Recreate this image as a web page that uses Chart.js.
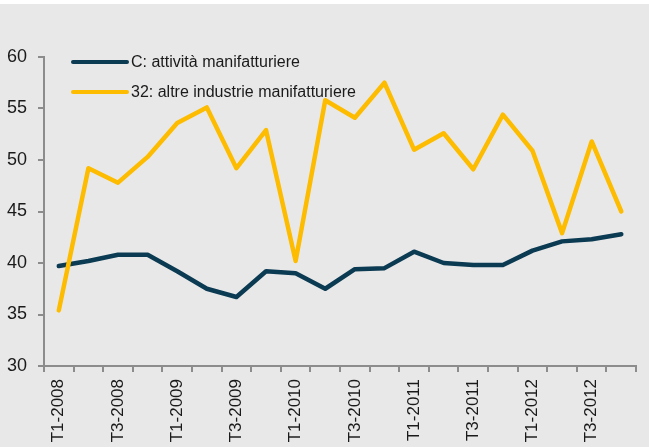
<!DOCTYPE html>
<html>
<head>
<meta charset="utf-8">
<script src="https://cdn.jsdelivr.net/npm/chart.js@4/dist/chart.umd.min.js"></script>
<style>
  html, body { margin: 0; padding: 0; background: #ffffff; width: 649px; height: 447px; overflow: hidden; }
  #c { display: block; margin-top: 4px; background: #e8e8e8; }
</style>
</head>
<body>
<canvas id="c" width="649" height="443"></canvas>
<script>
const categories = [
  "T1-2008","T2-2008","T3-2008","T4-2008",
  "T1-2009","T2-2009","T3-2009","T4-2009",
  "T1-2010","T2-2010","T3-2010","T4-2010",
  "T1-2011","T2-2011","T3-2011","T4-2011",
  "T1-2012","T2-2012","T3-2012","T4-2012"
];
const seriesNames = ["C: attività manifatturiere", "32: altre industrie manifatturiere"];
const manifatturiere = [39.7, 40.2, 40.8, 40.8, 39.2, 37.5, 36.7, 39.2, 39.0, 37.5,
                        39.4, 39.5, 41.1, 40.0, 39.8, 39.8, 41.2, 42.1, 42.3, 42.8];
const altreIndustrie = [35.4, 49.2, 47.8, 50.3, 53.6, 55.1, 49.2, 52.9, 40.2, 55.8,
                        54.1, 57.5, 51.0, 52.6, 49.1, 54.4, 50.9, 42.9, 51.8, 45.0];
const yTicks = { min: 30, max: 60, step: 5 };

const colDark = "#0b3a53";
const colYellow = "#fdbc00";
const axisCol = "#8c8c8c";
const font = "'Liberation Sans', Arial, sans-serif";

const legendPlugin = {
  id: "inlineLegend",
  afterDraw(chart) {
    const ctx = chart.ctx;
    const a = chart.chartArea;
    ctx.save();
    chart.data.datasets.forEach((ds, i) => {
      const y = a.top + 5 + i * 30;
      const x0 = a.left + 29, x1 = x0 + 54;
      ctx.strokeStyle = ds.borderColor;
      ctx.lineWidth = 4;
      ctx.lineCap = "round";
      ctx.beginPath(); ctx.moveTo(x0, y); ctx.lineTo(x1, y); ctx.stroke();
      ctx.fillStyle = "#1a1a1a";
      ctx.font = "16px " + font;
      ctx.textBaseline = "middle";
      ctx.textAlign = "left";
      ctx.fillText(ds.label, x1 + 4, y + 1);
    });
    ctx.restore();
  }
};

new Chart(document.getElementById("c"), {
  type: "line",
  data: {
    labels: categories,
    datasets: [
      { label: seriesNames[0], data: manifatturiere, borderColor: colDark, backgroundColor: colDark,
        borderWidth: 4.5, pointRadius: 0, tension: 0, borderJoinStyle: "round", borderCapStyle: "round", order: 1 },
      { label: seriesNames[1], data: altreIndustrie, borderColor: colYellow, backgroundColor: colYellow,
        borderWidth: 4.5, pointRadius: 0, tension: 0, borderJoinStyle: "round", borderCapStyle: "round", order: 0 }
    ]
  },
  options: {
    responsive: false,
    animation: false,
    layout: { padding: { top: 53, right: 12, left: 0, bottom: 0 } },
    plugins: { legend: { display: false }, tooltip: { enabled: false } },
    scales: {
      x: {
        offset: true,
        grid: { offset: true, drawOnChartArea: false, drawTicks: true, tickLength: 6, color: axisCol, lineWidth: 2 },
        border: { display: true, color: axisCol, width: 2 },
        ticks: {
          autoSkip: false, maxRotation: 90, minRotation: 90, padding: 7,
          color: "#1a1a1a", font: { family: font, size: 17 },
          callback: function(v, i) { return i % 2 === 0 ? this.getLabelForValue(v) : ""; }
        },
        afterFit(scale) { scale.height = 81; }
      },
      y: {
        min: yTicks.min, max: yTicks.max,
        grid: { drawOnChartArea: false, drawTicks: true, tickLength: 6, color: axisCol, lineWidth: 2 },
        border: { display: true, color: axisCol, width: 2 },
        ticks: { stepSize: yTicks.step, padding: 11, color: "#1a1a1a", font: { family: font, size: 18 } },
        afterFit(scale) { scale.width = 44; }
      }
    }
  },
  plugins: [legendPlugin]
});
</script>
</body>
</html>
